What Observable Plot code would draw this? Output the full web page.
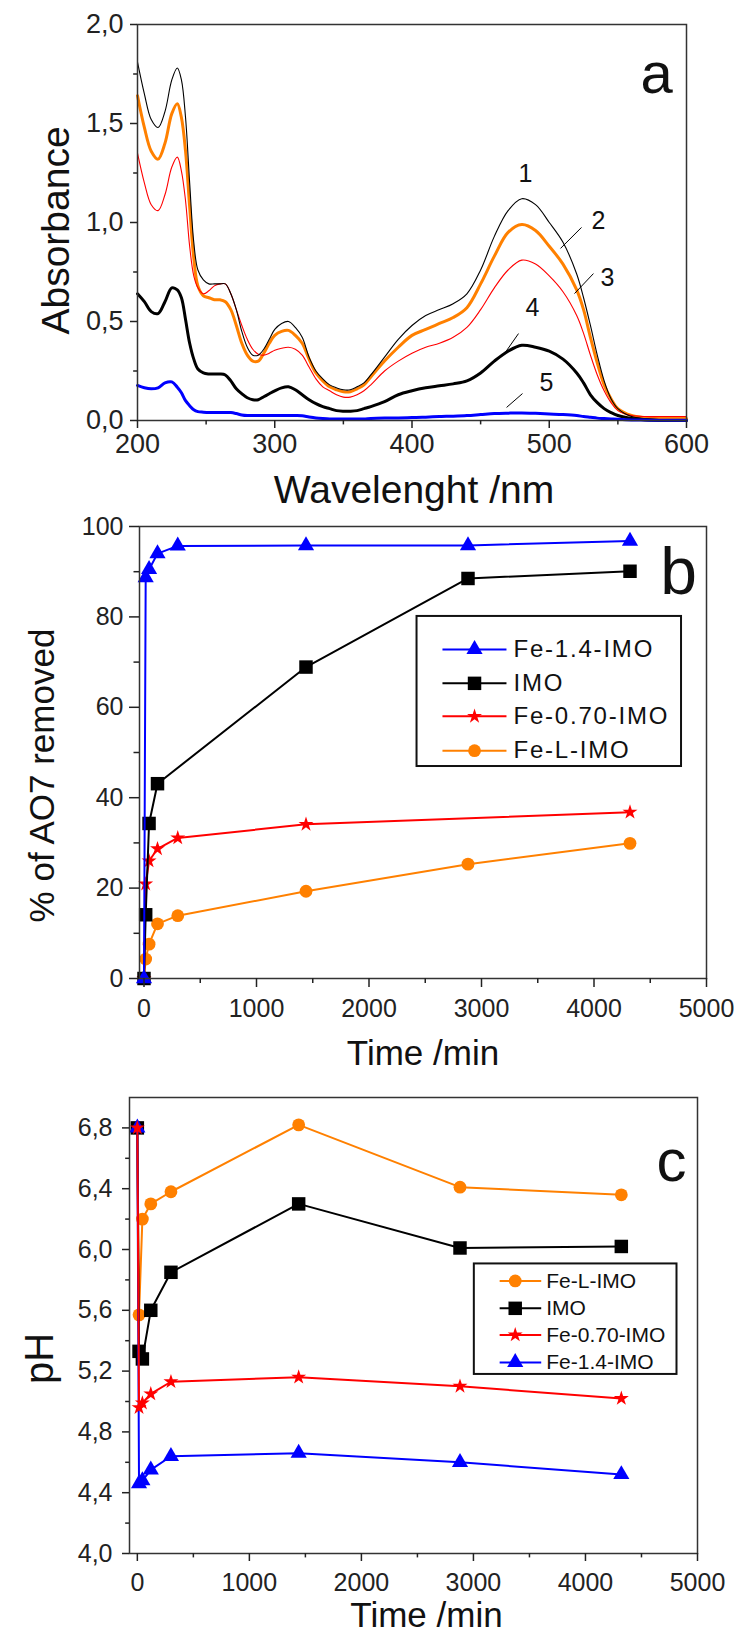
<!DOCTYPE html>
<html><head><meta charset="utf-8">
<script src="https://cdn.jsdelivr.net/npm/d3@7"></script>
<script src="https://cdn.jsdelivr.net/npm/@observablehq/plot@0.6"></script>
<style>
body{margin:0;background:#fff;}
#wrap{position:relative;width:734px;height:1636px;overflow:hidden;}
.panel{position:absolute;left:0;width:734px;}
</style></head><body><div id="wrap"></div>
<script>
// ---------- Panel a: UV-vis spectra ----------
const wavelength = [200,205,210,215,220,225,229,232,235,238,241,244,248,252,256,260,264,268,272,276,280,284,288,292,296,300,305,310,315,320,325,330,335,340,345,350,355,360,365,370,380,390,400,410,420,430,440,450,460,470,480,490,500,510,520,525,530,535,540,545,550,560,570,580,590,600];
const absCurve1 = [1.81,1.65,1.52,1.48,1.56,1.72,1.78,1.72,1.53,1.20,0.90,0.76,0.71,0.69,0.69,0.69,0.69,0.64,0.56,0.45,0.37,0.33,0.33,0.36,0.41,0.46,0.49,0.50,0.47,0.42,0.32,0.25,0.21,0.18,0.165,0.155,0.155,0.17,0.19,0.23,0.32,0.41,0.48,0.53,0.56,0.59,0.64,0.76,0.93,1.06,1.12,1.09,1.00,0.90,0.74,0.62,0.48,0.33,0.20,0.11,0.06,0.02,0.01,0.005,0.005,0.005];
const absCurve2 = [1.64,1.48,1.36,1.32,1.40,1.55,1.60,1.53,1.36,1.08,0.82,0.68,0.63,0.62,0.61,0.61,0.60,0.56,0.48,0.39,0.33,0.30,0.30,0.34,0.39,0.43,0.45,0.455,0.43,0.39,0.31,0.24,0.20,0.17,0.155,0.145,0.145,0.16,0.18,0.22,0.30,0.37,0.43,0.46,0.49,0.52,0.57,0.69,0.83,0.95,0.99,0.96,0.88,0.79,0.66,0.56,0.42,0.29,0.18,0.11,0.06,0.025,0.015,0.01,0.01,0.01];
const absCurve3 = [1.35,1.20,1.09,1.06,1.14,1.28,1.33,1.26,1.11,0.88,0.73,0.67,0.64,0.655,0.68,0.69,0.69,0.64,0.56,0.48,0.41,0.36,0.335,0.33,0.34,0.355,0.365,0.37,0.36,0.33,0.27,0.21,0.17,0.15,0.13,0.118,0.118,0.13,0.15,0.18,0.25,0.30,0.34,0.37,0.39,0.42,0.47,0.56,0.67,0.76,0.81,0.79,0.73,0.65,0.53,0.44,0.33,0.23,0.15,0.09,0.05,0.025,0.02,0.02,0.02,0.02];
const absCurve4 = [0.64,0.60,0.55,0.54,0.60,0.67,0.66,0.62,0.51,0.39,0.31,0.26,0.24,0.235,0.235,0.235,0.23,0.20,0.16,0.135,0.115,0.105,0.105,0.12,0.135,0.15,0.165,0.17,0.155,0.13,0.105,0.085,0.07,0.06,0.05,0.047,0.047,0.05,0.06,0.07,0.095,0.13,0.15,0.165,0.175,0.185,0.20,0.24,0.30,0.35,0.38,0.37,0.35,0.31,0.24,0.19,0.13,0.09,0.06,0.04,0.025,0.01,0.003,0,0,0];
const absCurve5 = [0.177,0.165,0.16,0.165,0.19,0.195,0.168,0.14,0.10,0.075,0.054,0.045,0.042,0.04,0.04,0.04,0.04,0.04,0.035,0.028,0.025,0.025,0.025,0.025,0.025,0.025,0.025,0.025,0.025,0.024,0.018,0.013,0.01,0.008,0.008,0.008,0.008,0.008,0.008,0.01,0.012,0.013,0.015,0.017,0.02,0.022,0.025,0.03,0.035,0.037,0.038,0.036,0.033,0.03,0.025,0.02,0.016,0.012,0.01,0.008,0.006,0.003,0.002,0.001,0.001,0.001];
const curveLabels = ["1","2","3","4","5"];
const curveLabelWl = [482.7,535.9,542.4,487.8,498];
const curveLabelAbs = [1.247,1.01,0.722,0.566,0.187];
const leaderWl1 = [523.5,532.2,477.6,480.5];
const leaderAbs1 = [0.975,0.742,0.439,0.136];
const leaderWl2 = [508.2,518.4,467.4,468.9];
const leaderAbs2 = [0.869,0.641,0.338,0.066];
const aXMajor = [200,300,400,500,600];
const aXMinor = [250,350,450,550];
const aYMajor = [0,0.5,1.0,1.5,2.0];
const aYMinor = [0.25,0.75,1.25,1.75];

// ---------- Panels b and c: time series ----------
const timeMin = [0,15,45,120,300,1440,2880,4320];
const removedFe14 = [0,88.7,90.5,94,95.7,95.8,95.8,96.8];
const removedIMO  = [0,14.1,34.3,43.1,null,68.9,88.5,90.1];
const removedFe070 = [0,20.9,26.0,28.7,31.1,34.1,null,36.8];
const removedFeL  = [0,4.3,7.6,12.1,13.9,19.3,25.3,29.9];
const phFeL  = [6.80,5.57,6.20,6.30,6.38,6.82,6.41,6.36];
const phIMO  = [6.80,5.33,5.28,5.60,5.85,6.30,6.01,6.02];
const phFe070 = [6.80,4.96,4.99,5.05,5.13,5.16,5.10,5.02];
const phFe14 = [6.80,4.46,4.48,4.55,4.64,4.66,4.60,4.52];
const legendOrderB = ["Fe-1.4-IMO","IMO","Fe-0.70-IMO","Fe-L-IMO"];
const legendOrderC = ["Fe-L-IMO","IMO","Fe-0.70-IMO","Fe-1.4-IMO"];
const tXMajor = [0,1000,2000,3000,4000,5000];
const tXMinor = [500,1500,2500,3500,4500];
const bYMajor = [0,20,40,60,80,100];
const bYMinor = [10,30,50,70,90];
const cYMajor = [4.0,4.4,4.8,5.2,5.6,6.0,6.4,6.8];
const cYMinor = [4.2,4.6,5.0,5.4,5.8,6.2,6.6];

// ---------- styles ----------
const FONT = "'Liberation Sans', Arial, Helvetica, sans-serif";
const seriesStyle = {
  "Fe-1.4-IMO": {color: "#0000ff", symbol: "triangle", r: 6.0},
  "IMO": {color: "#000000", symbol: "square", r: 7.6},
  "Fe-0.70-IMO": {color: "#ff0000", symbol: "star", r: 4.7},
  "Fe-L-IMO": {color: "#ff8000", symbol: "circle", r: 6.4}
};
const fmtComma = d => d.toFixed(1).replace(".", ",");
const fmtInt = d => String(d);

function rows(xs, ys) {
  const out = [];
  xs.forEach((x, i) => { if (ys[i] != null) out.push({x, y: ys[i]}); });
  return out;
}
function axisMarks(o) {
  return [
    Plot.axisX(o.xMajor, {anchor: "bottom", tickSize: o.xTick, tickPadding: o.xPad, tickFormat: o.xFmt, label: null, strokeWidth: 1.5}),
    Plot.axisX(o.xMinor, {anchor: "bottom", tickSize: o.xTick * 0.55, tickFormat: () => "", label: null, strokeWidth: 1.5}),
    Plot.axisY(o.yMajor, {anchor: "left", tickSize: o.yTick, tickPadding: o.yPad, tickFormat: o.yFmt, label: null, strokeWidth: 1.5}),
    Plot.axisY(o.yMinor, {anchor: "left", tickSize: o.yTick * 0.55, tickFormat: () => "", label: null, strokeWidth: 1.5})
  ];
}
function seriesMarks(name, xs, ys) {
  const s = seriesStyle[name];
  const r = rows(xs, ys);
  return [
    Plot.line(r, {x: "x", y: "y", stroke: s.color, strokeWidth: 2}),
    Plot.dot(r, {x: "x", y: "y", symbol: s.symbol, r: s.r, fill: s.color, stroke: "none"})
  ];
}
function legendMarks(order, L) {
  const marks = [Plot.rect([0], {x1: L.x1, x2: L.x2, y1: L.y1, y2: L.y2, fill: "white", stroke: "#111", strokeWidth: 2})];
  order.forEach((name, i) => {
    const s = seriesStyle[name];
    marks.push(Plot.link([name], {x1: L.lx1, x2: L.lx2, y1: L.rows[i], y2: L.rows[i], stroke: s.color, strokeWidth: 2}));
    marks.push(Plot.dot([name], {x: L.mx, y: L.rows[i], symbol: s.symbol, r: s.r, fill: s.color, stroke: "none"}));
    marks.push(Plot.text([name], {x: L.tx, y: L.rows[i], text: d => d, textAnchor: "start", lineAnchor: "middle", fontSize: L.fs, fill: "#111"}));
  });
  return marks;
}
function label(str, o) {
  return Plot.text([str], {text: d => d, textAnchor: "middle", lineAnchor: "middle", fill: "#111", ...o});
}
const baseStyle = (fs) => ({fontFamily: FONT, fontSize: fs + "px", color: "#222", background: "transparent", overflow: "visible"});

const wrap = document.getElementById("wrap");
function place(svg, top) {
  const d = document.createElement("div");
  d.className = "panel";
  d.style.top = top + "px";
  d.appendChild(svg);
  wrap.appendChild(d);
}

// ---- Panel a ----
const plotA = Plot.plot({
  width: 734, height: 505,
  marginTop: 24, marginBottom: 85, marginLeft: 137, marginRight: 48,
  style: baseStyle(27),
  x: {domain: [200, 600], label: null},
  y: {domain: [0, 2], label: null},
  marks: [
    Plot.line(rows(wavelength, absCurve2), {x: "x", y: "y", stroke: "#ff8000", strokeWidth: 3, curve: "catmull-rom"}),
    Plot.line(rows(wavelength, absCurve3), {x: "x", y: "y", stroke: "#ff0000", strokeWidth: 1.1, curve: "catmull-rom"}),
    Plot.line(rows(wavelength, absCurve1), {x: "x", y: "y", stroke: "#000000", strokeWidth: 1.1, curve: "catmull-rom"}),
    Plot.line(rows(wavelength, absCurve4), {x: "x", y: "y", stroke: "#000000", strokeWidth: 3, curve: "catmull-rom"}),
    Plot.line(rows(wavelength, absCurve5), {x: "x", y: "y", stroke: "#0000ff", strokeWidth: 3, curve: "catmull-rom"}),
    Plot.frame({stroke: "#333", strokeWidth: 1.5}),
    ...axisMarks({xMajor: aXMajor, xMinor: aXMinor, yMajor: aYMajor, yMinor: aYMinor, xFmt: fmtInt, yFmt: fmtComma, xTick: 8, xPad: 5, yTick: 7, yPad: 7}),
    Plot.link(leaderWl1, {x1: d => d, y1: (d, i) => leaderAbs1[i], x2: (d, i) => leaderWl2[i], y2: (d, i) => leaderAbs2[i], stroke: "#000", strokeWidth: 1}),
    Plot.text(curveLabels, {x: (d, i) => curveLabelWl[i], y: (d, i) => curveLabelAbs[i], text: d => d, fontSize: 25, fill: "#111"}),
    label("Wavelenght /nm", {frameAnchor: "bottom", dx: 2, dy: 70, fontSize: 39}),
    label("Absorbance", {frameAnchor: "left", dx: -81, dy: 8, rotate: -90, fontSize: 39}),
    label("a", {frameAnchor: "top-right", dx: -30, dy: 50, fontSize: 58})
  ]
});
place(plotA, 0);

// ---- Panel b ----
const plotB = Plot.plot({
  width: 734, height: 575,
  marginTop: 21, marginBottom: 102, marginLeft: 139, marginRight: 28,
  style: baseStyle(25),
  x: {domain: [-40, 5000], label: null},
  y: {domain: [0, 100], label: null},
  marks: [
    ...seriesMarks("Fe-L-IMO", timeMin, removedFeL),
    ...seriesMarks("Fe-0.70-IMO", timeMin, removedFe070),
    ...seriesMarks("IMO", timeMin, removedIMO),
    ...seriesMarks("Fe-1.4-IMO", timeMin, removedFe14),
    Plot.frame({stroke: "#333", strokeWidth: 1.5}),
    ...axisMarks({xMajor: tXMajor, xMinor: tXMinor, yMajor: bYMajor, yMinor: bYMinor, xFmt: fmtInt, yFmt: fmtInt, xTick: 9, xPad: 12, yTick: 10, yPad: 6}),
    ...legendMarks(legendOrderB, {x1: 2427, x2: 4778, y1: 46.9, y2: 80.1, lx1: 2653, lx2: 3222, mx: 2938, tx: 3284, rows: [72.8, 65.3, 58.0, 50.4], fs: 24}),
    label("Time /min", {frameAnchor: "bottom", dx: 0, dy: 75, fontSize: 35}),
    label("% of AO7 removed", {frameAnchor: "left", dx: -97, dy: 23, rotate: -90, fontSize: 35}),
    label("b", {frameAnchor: "top-right", dx: -28, dy: 46, fontSize: 66})
  ]
});
plotB.querySelectorAll("text").forEach(t => {
  if (legendOrderB.includes(t.textContent)) t.style.letterSpacing = "1.8px";
});
place(plotB, 505);

// ---- Panel c ----
const plotC = Plot.plot({
  width: 734, height: 556,
  marginTop: 17, marginBottom: 83, marginLeft: 129, marginRight: 37,
  style: baseStyle(25),
  x: {domain: [-70, 5000], label: null},
  y: {domain: [4.0, 7.0], label: null},
  marks: [
    ...seriesMarks("Fe-L-IMO", timeMin, phFeL),
    ...seriesMarks("IMO", timeMin, phIMO),
    ...seriesMarks("Fe-1.4-IMO", timeMin, phFe14),
    ...seriesMarks("Fe-0.70-IMO", timeMin, phFe070),
    Plot.frame({stroke: "#333", strokeWidth: 1.5}),
    ...axisMarks({xMajor: tXMajor, xMinor: tXMinor, yMajor: cYMajor, yMinor: cYMinor, xFmt: fmtInt, yFmt: fmtComma, xTick: 8, xPad: 12, yTick: 7, yPad: 10}),
    ...legendMarks(legendOrderC, {x1: 3008, x2: 4817, y1: 5.178, y2: 5.905, lx1: 3234, lx2: 3605, mx: 3373, tx: 3650, rows: [5.793, 5.613, 5.438, 5.257], fs: 21}),
    label("Time /min", {frameAnchor: "bottom", dx: 13, dy: 62, fontSize: 35}),
    label("pH", {frameAnchor: "left", dx: -89, dy: 33, rotate: -90, fontSize: 40}),
    label("c", {frameAnchor: "top-right", dx: -26, dy: 64, fontSize: 60})
  ]
});
place(plotC, 1080);
</script></body></html>
